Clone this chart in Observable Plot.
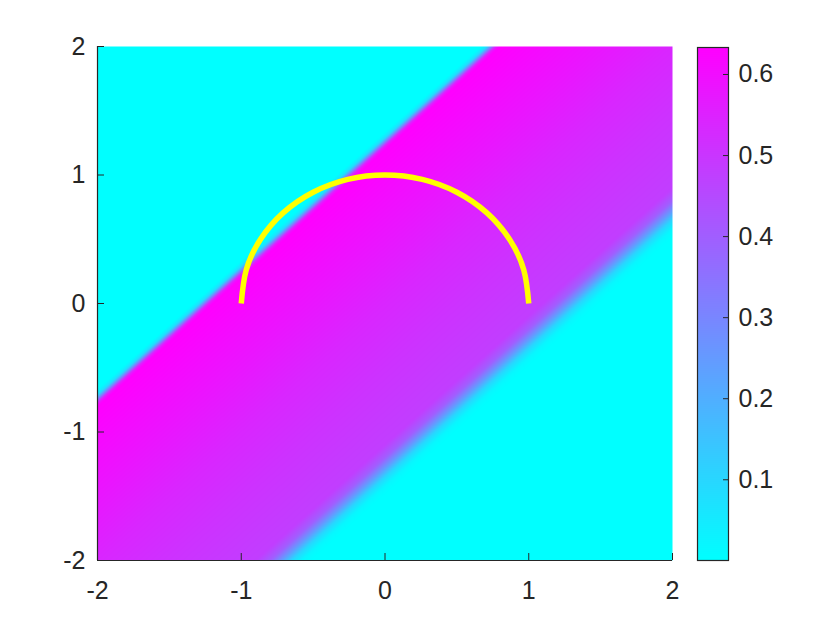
<!DOCTYPE html>
<html>
<head>
<meta charset="utf-8">
<script src="https://cdn.jsdelivr.net/npm/d3@7"></script>
<script src="https://cdn.jsdelivr.net/npm/@observablehq/plot@0.6"></script>
<style>
  html, body { margin: 0; padding: 0; background: white; }
  #wrap { position: relative; width: 840px; height: 630px; }
  #wrap svg { position: absolute; left: 0; top: 0; }
</style>
</head>
<body>
<div id="wrap"></div>
<script>
// colour range of the colorbar
const cmin = 0.0004;
const cmax = 0.6333;

// value profile across the diagonal band, indexed by c = y - x
const profileC = [-4, -1.48, -1.42, -1.35, -1.28, -1.2, -1.1, -0.5, 0, 0.5, 0.9, 1.2, 1.23, 1.26, 1.29, 1.33, 4];
const profileV = [cmin, cmin, 0.02, 0.10, 0.25, 0.40, 0.48, 0.51, 0.54, 0.58, 0.61, 0.633, 0.55, 0.30, 0.08, cmin, cmin];

// yellow semicircle
const arcX = [-1, -0.966, -0.866, -0.707, -0.5, -0.259, 0, 0.259, 0.5, 0.707, 0.866, 0.966, 1];
const arcY = [0, 0.259, 0.5, 0.707, 0.866, 0.966, 1, 0.966, 0.866, 0.707, 0.5, 0.259, 0];

// tick labels
const xTicks = [-2, -1, 0, 1, 2];
const yTicks = [-2, -1, 0, 1, 2];
const cbTicks = [0.1, 0.2, 0.3, 0.4, 0.5, 0.6];

const ink = "#262626";
const font = "'Liberation Sans', Arial, Helvetica, sans-serif";

const profile = d3.scaleLinear().domain(profileC).range(profileV).clamp(true);
const arc = arcX.map((x, i) => ({x, y: arcY[i]}));

const colorScale = {
  type: "linear",
  domain: [cmin, cmax],
  range: ["#00ffff", "#ff00ff"],
  interpolate: "rgb"
};

const W = 840, H = 630;
const mainL = 97, mainR = 168, mainT = 46, mainB = 70;
const frameW = W - mainL - mainR, frameH = H - mainT - mainB;
const tickLen = 7;

const main = Plot.plot({
  width: W, height: H,
  marginLeft: mainL, marginRight: mainR, marginTop: mainT, marginBottom: mainB,
  style: {fontFamily: font, fontSize: "25px", color: ink, background: "white"},
  x: {domain: [-2, 2], ticks: xTicks, tickSize: 0, tickPadding: 21, tickFormat: d => String(d), label: null},
  y: {domain: [-2, 2], ticks: yTicks, tickSize: 0, tickPadding: 12, tickFormat: d => String(d), label: null},
  color: colorScale,
  marks: [
    Plot.raster({fill: (x, y) => profile(y - x), x1: -2, x2: 2, y1: -2, y2: 2}),
    Plot.line(arc, {x: "x", y: "y", stroke: "#ffff00", strokeWidth: 5.5, curve: "natural", strokeLinecap: "butt"}),
    Plot.ruleX(xTicks, {stroke: ink, insetTop: frameH - tickLen}),
    Plot.ruleY(yTicks, {stroke: ink, insetRight: frameW - tickLen}),
    Plot.ruleX([-2], {stroke: ink, strokeWidth: 1.2}),
    Plot.ruleY([-2], {stroke: ink, strokeWidth: 1.2})
  ]
});

const cbL = 697, cbR = 112, cbT = 47, cbB = 70;
const cbW = W - cbL - cbR;
const colorbar = Plot.plot({
  width: W, height: H,
  marginLeft: cbL, marginRight: cbR, marginTop: cbT, marginBottom: cbB,
  style: {fontFamily: font, fontSize: "25px", color: ink, background: "none"},
  x: {domain: [0, 1], axis: null},
  y: {domain: [cmin, cmax], axis: "right", ticks: cbTicks, tickSize: 0, tickPadding: 10, tickFormat: d => d.toFixed(1), label: null},
  color: colorScale,
  marks: [
    Plot.raster({fill: (x, y) => y, x1: 0, x2: 1, y1: cmin, y2: cmax}),
    Plot.ruleY(cbTicks, {stroke: ink, insetLeft: cbW - 5}),
    Plot.frame({stroke: ink, strokeWidth: 1.2})
  ]
});

const wrap = document.getElementById("wrap");
wrap.appendChild(main);
wrap.appendChild(colorbar);
</script>
</body>
</html>
